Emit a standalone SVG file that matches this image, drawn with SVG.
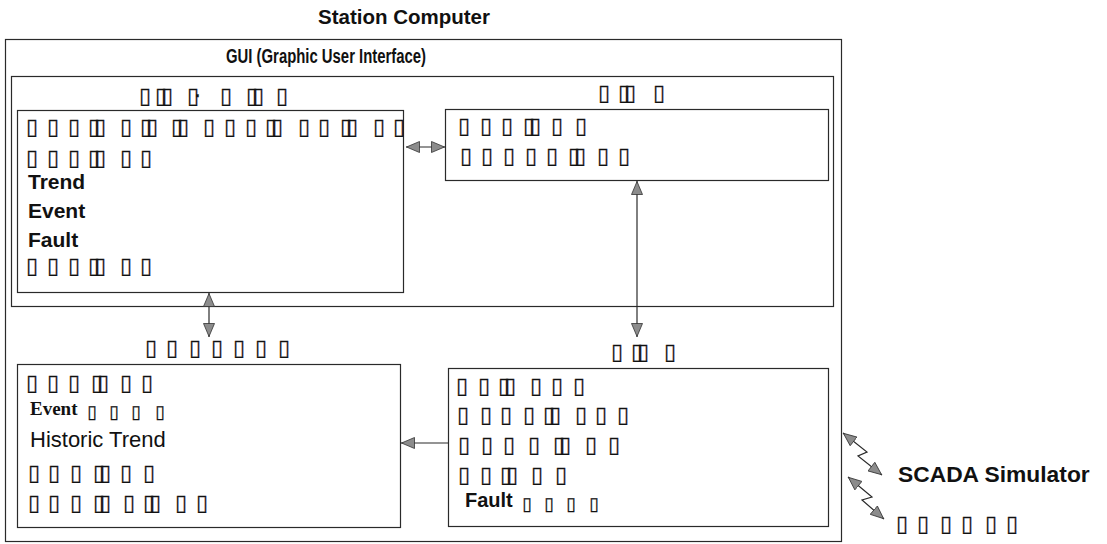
<svg xmlns="http://www.w3.org/2000/svg" width="1107" height="544" viewBox="0 0 1107 544">
<defs>
<style>
.box{fill:none;stroke:#2a2a2a;stroke-width:1.2}
.b{font-family:"Liberation Sans",Arial,sans-serif;font-weight:bold;fill:#111}
.r{font-family:"Liberation Sans",Arial,sans-serif;fill:#111}
.s{font-family:"Liberation Serif","Times New Roman",serif;font-weight:bold;fill:#111}
.t{font-family:"DejaVu Sans",sans-serif;font-size:22px;fill:#111;stroke:#111;stroke-width:0.25}
.ts{font-family:"DejaVu Sans",sans-serif;font-size:18px;fill:#111;stroke:#111;stroke-width:0.25}
.c{fill:none;stroke:#2a2a2a;stroke-width:1.2}
</style>
<marker id="ah" viewBox="0 0 14 12" refX="14" refY="6" markerWidth="14" markerHeight="12" markerUnits="userSpaceOnUse" orient="auto-start-reverse">
<path d="M0.5,0.5 L13.5,6 L0.5,11.5 Z" fill="#8c8c8c" stroke="#333" stroke-width="0.8"/>
</marker>
</defs>
<rect width="1107" height="544" fill="#fff"/>

<g id="station-computer">
<rect class="box" x="5.5" y="39.5" width="836" height="502"/>
<text class="b" x="318" y="24" font-size="20.5">Station Computer</text>
</g>

<g id="gui">
<rect class="box" x="11.5" y="76.5" width="822" height="230"/>
<text class="b" x="226" y="63" font-size="19.5" textLength="200" lengthAdjust="spacingAndGlyphs">GUI (Graphic User Interface)</text>
</g>

<g id="node-top-left">
<text class="t" x="139 146 155 161 168 187 194 200 220 227 246 252 259 276" y="103">▯ ▯▯ ▯· ▯ ▯▯ ▯</text>
<rect class="box" x="17.5" y="110.5" width="386" height="182"/>
<text class="t" x="26 33 47 54 68 75 88 94 101 120 127 140 146 153 171 177 184 203 210 224 231 245 252 265 271 278 298 305 318 325 340 346 353 373 380 393" y="134">▯ ▯ ▯ ▯▯ ▯ ▯▯ ▯▯ ▯ ▯ ▯ ▯▯ ▯ ▯ ▯▯ ▯ ▯</text>
<text class="t" x="26 33 47 54 68 75 88 94 101 120 127 140" y="165">▯ ▯ ▯ ▯▯ ▯ ▯</text>
<text class="b" x="28" y="189" font-size="21">Trend</text>
<text class="b" x="28" y="218" font-size="21">Event</text>
<text class="b" x="28" y="247" font-size="21">Fault</text>
<text class="t" x="26 33 47 54 68 75 88 94 101 120 127 140" y="273">▯ ▯ ▯ ▯▯ ▯ ▯</text>
</g>

<g id="node-top-right">
<text class="t" x="598 605 618 624 631 653" y="100">▯ ▯▯ ▯</text>
<rect class="box" x="445.5" y="109.5" width="383" height="71"/>
<text class="t" x="458 465 480 487 501 508 523 529 536 551 558 575" y="133">▯ ▯ ▯ ▯▯ ▯ ▯</text>
<text class="t" x="460 467 481 488 503 510 525 532 546 553 568 574 581 597 604 618" y="163">▯ ▯ ▯ ▯ ▯ ▯▯ ▯ ▯</text>
</g>

<g id="node-bottom-left">
<text class="t" x="145 152 166 173 189 196 211 218 233 240 255 262 278" y="355">▯ ▯ ▯ ▯ ▯ ▯ ▯</text>
<rect class="box" x="17.5" y="364.5" width="383" height="163"/>
<text class="t" x="26 33 47 54 68 75 91 97 104 120 127 141" y="390">▯ ▯ ▯ ▯▯ ▯ ▯</text>
<text class="s" x="30" y="415" font-size="19">Event</text>
<text class="ts" x="87 94 109 116 131 138 155" y="418">▯ ▯ ▯ ▯</text>
<text class="r" x="30" y="447" font-size="22">Historic Trend</text>
<text class="t" x="28 35 48 55 70 77 93 99 106 120 127 143" y="480">▯ ▯ ▯ ▯▯ ▯ ▯</text>
<text class="t" x="28 35 48 55 70 77 93 99 106 123 130 143 149 156 175 182 196" y="510">▯ ▯ ▯ ▯▯ ▯ ▯▯ ▯ ▯</text>
</g>

<g id="node-bottom-right">
<text class="t" x="611 618 631 637 644 664" y="359">▯ ▯▯ ▯</text>
<rect class="box" x="448.5" y="368.5" width="380" height="158"/>
<text class="t" x="456 463 478 485 498 504 511 530 537 551 558 573" y="393">▯ ▯ ▯▯ ▯ ▯ ▯</text>
<text class="t" x="457 464 480 487 500 507 523 530 543 549 556 575 582 595 602 617" y="422">▯ ▯ ▯ ▯ ▯▯ ▯ ▯ ▯</text>
<text class="t" x="458 465 481 488 503 510 528 535 553 559 566 585 592 608" y="452">▯ ▯ ▯ ▯ ▯▯ ▯ ▯</text>
<text class="t" x="458 465 480 487 500 506 513 531 538 555" y="482">▯ ▯ ▯▯ ▯ ▯</text>
<text class="b" x="465" y="507" font-size="20">Fault</text>
<text class="ts" x="522 529 544 551 566 573 589" y="510">▯ ▯ ▯ ▯</text>
</g>

<g id="scada-simulator">
<text class="b" x="898" y="482" font-size="22.8">SCADA Simulator</text>
<text class="t" x="896 903 917 924 940 947 961 968 985 992 1006" y="531">▯ ▯ ▯ ▯ ▯ ▯</text>
</g>

<g id="connectors">
<line class="c" x1="406" y1="147" x2="445" y2="147" marker-start="url(#ah)" marker-end="url(#ah)"/>
<line class="c" x1="637" y1="181" x2="637" y2="337" marker-start="url(#ah)" marker-end="url(#ah)"/>
<line class="c" x1="209" y1="293" x2="209" y2="337" marker-start="url(#ah)" marker-end="url(#ah)"/>
<line class="c" x1="448" y1="443" x2="401" y2="443" marker-end="url(#ah)"/>
<path class="c" d="M843,433 L867,452 L858,456 L882,475" marker-start="url(#ah)" marker-end="url(#ah)"/>
<path class="c" d="M848,477 L872,497 L862,500 L884,519" marker-start="url(#ah)" marker-end="url(#ah)"/>
</g>
</svg>
